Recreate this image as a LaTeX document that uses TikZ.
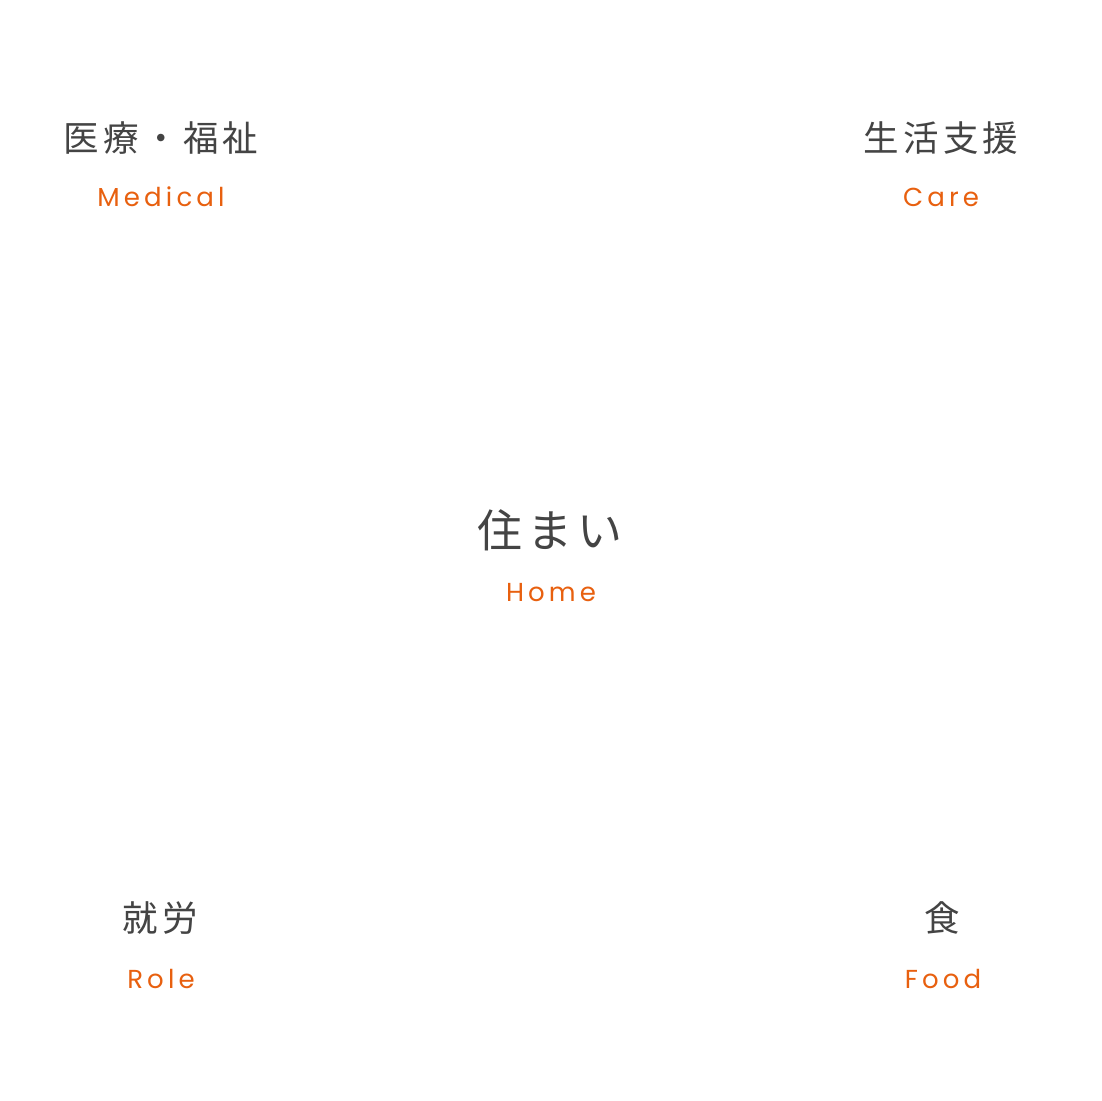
\documentclass[tikz,border=0pt]{standalone}
\usepackage{fontspec}
\newfontfamily\cjk[LetterSpace=12]{Noto Sans CJK JP}
\newfontfamily\lat[LetterSpace=16]{Poppins}
\definecolor{ink}{HTML}{444444}
\definecolor{accent}{HTML}{E8600F}
\begin{document}
\begin{tikzpicture}[x=1pt,y=-1pt,
  head/.style={text=ink,font=\cjk\fontsize{35.5}{35.5}\selectfont,inner sep=0pt,anchor=center},
  bighead/.style={text=ink,font=\cjk\fontsize{45}{45}\selectfont,inner sep=0pt,anchor=center},
  sub/.style={text=accent,font=\lat\fontsize{26}{26}\selectfont,inner sep=0pt,anchor=center}]
\useasboundingbox[fill=white] (0,0) rectangle (1102,1100);
\node[head] (medh) at (161,138) {医療・福祉};
\node[sub] (meds) at (161,197) {Medical};
\node[head] (careh) at (941,138) {生活支援};
\node[sub] (cares) at (941,197) {Care};
\node[bighead] (homeh) at (550,530) {住まい};
\node[sub] (homes) at (551,593) {Home};
\node[head] (roleh) at (160,918) {就労};
\node[sub] (roles) at (161,979) {Role};
\node[head] (foodh) at (942,918) {食};
\node[sub] (foods) at (943,979) {Food};
\end{tikzpicture}
\end{document}
